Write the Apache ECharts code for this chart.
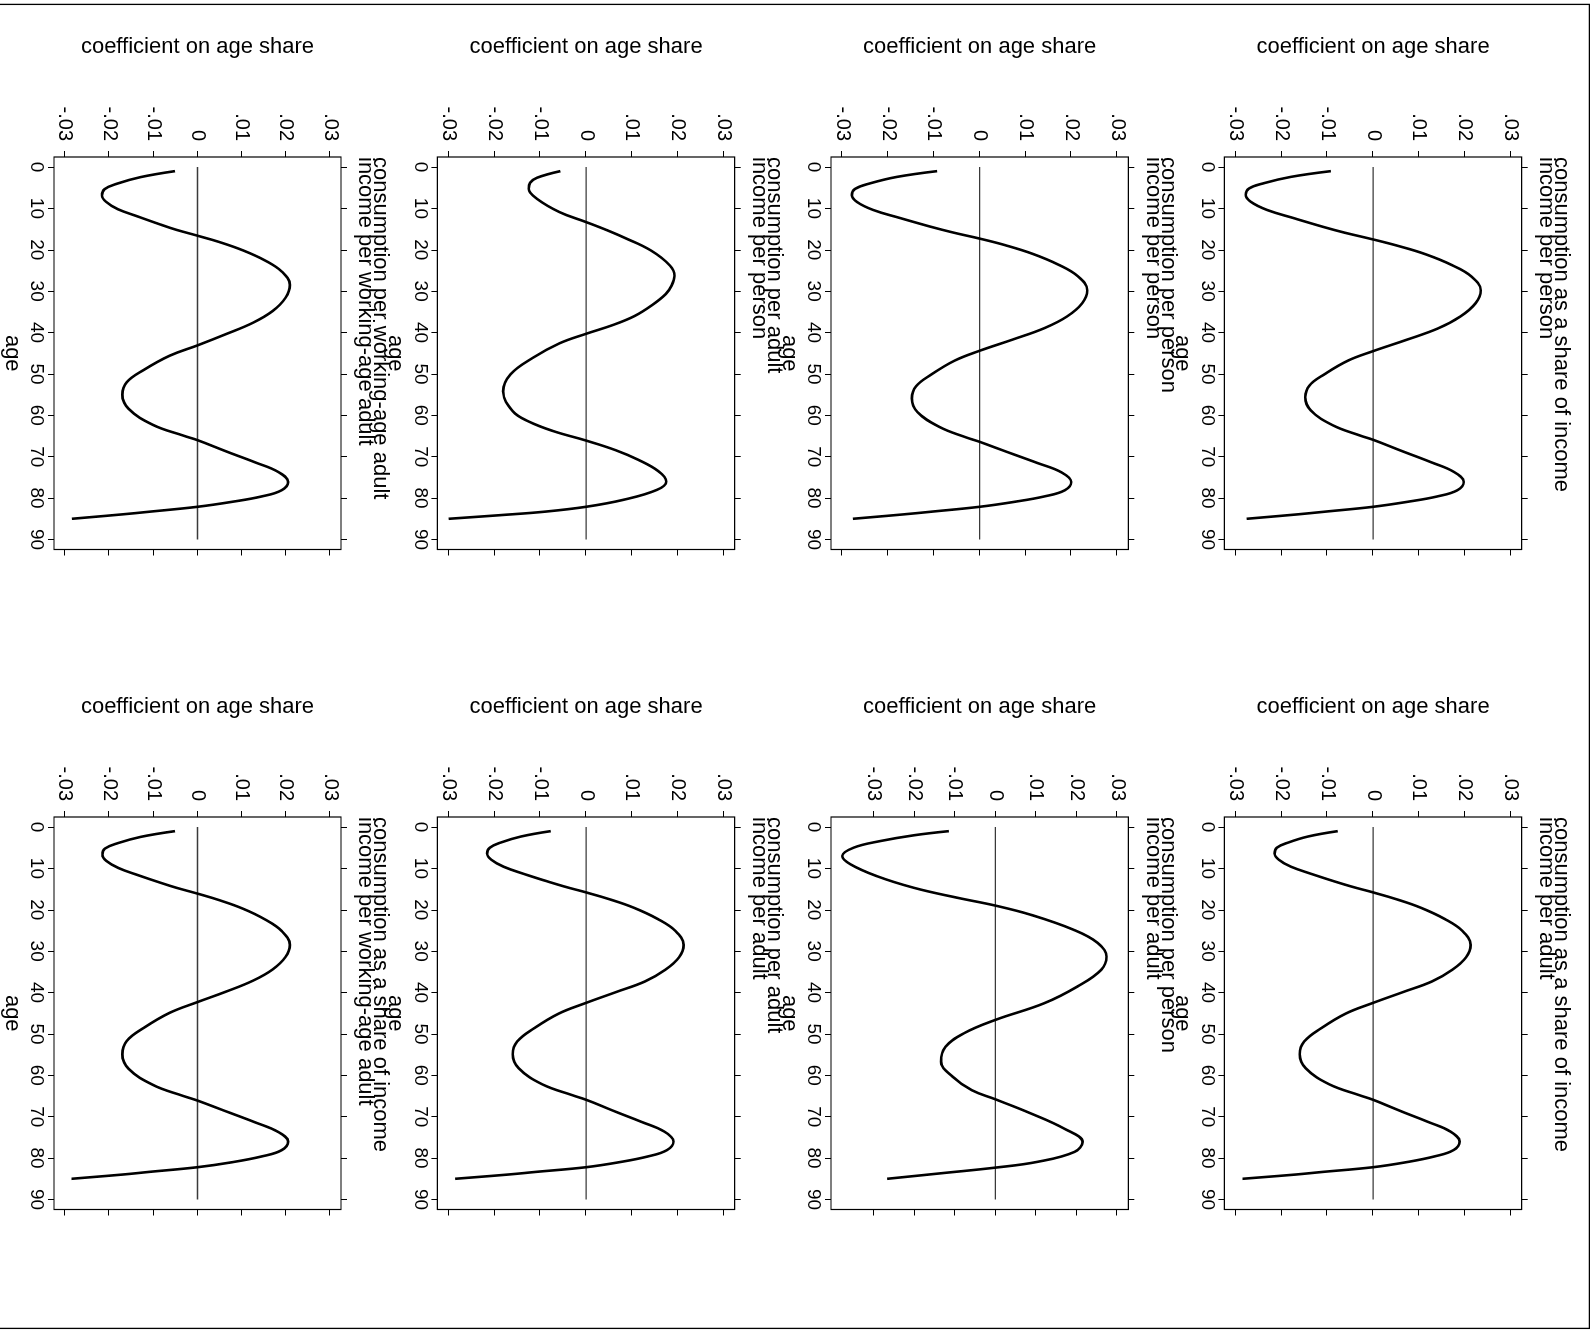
<!DOCTYPE html>
<html>
<head>
<meta charset="utf-8">
<script src="https://cdn.jsdelivr.net/npm/echarts@6/dist/echarts.min.js"></script>
<style>
  html, body { margin: 0; padding: 0; background: #fff; overflow: hidden; width: 1596px; height: 1331px; }
  /* the figure is laid out as a portrait page and turned a quarter turn clockwise */
  #chart { position: absolute; left: 0; top: 0; width: 1331px; height: 1596px;
           transform-origin: 0 0; transform: translate(1596px, 0) rotate(90deg); }
</style>
</head>
<body>
<div id="chart"></div>
<script>
// ---- axis ticks ----
const ageTicks = [0, 10, 20, 30, 40, 50, 60, 70, 80, 90];
const coefTicks = [-0.03, -0.02, -0.01, 0, 0.01, 0.02, 0.03];
const coefTickLabels = ['-.03', '-.02', '-.01', '0', '.01', '.02', '.03'];
const zeroLine = [[0, 0], [90, 0]];

// ---- coefficient on age share, [age, coefficient] ----
const shareIncPerPerson = [[1,-0.0092],[2.4,-0.0180],[3.9,-0.0238],[5.2,-0.0271],[6.7,-0.0278],[8.4,-0.0267],[10.4,-0.0231],[12.4,-0.0172],[14.5,-0.0108],[15.9,-0.0061],[17.5,0],[19.1,0.0056],[21.1,0.0115],[23.7,0.0172],[26.5,0.0215],[29.8,0.0235],[32.9,0.0224],[36.1,0.0191],[39.0,0.0142],[41.8,0.0072],[44.5,0],[46.8,-0.0055],[50.0,-0.0105],[52.8,-0.0139],[55.6,-0.0148],[58.8,-0.0136],[62.4,-0.0088],[64.9,-0.0028],[65.9,0],[68.5,0.0060],[71.3,0.0126],[73.7,0.0177],[76.1,0.0198],[78.1,0.0184],[79.6,0.0140],[80.9,0.0075],[82.1,0],[83.3,-0.0107],[83.9,-0.0162],[85,-0.0276]];
const shareIncPerAdult = [[1,-0.0077],[2.3,-0.0142],[3.75,-0.0185],[5.0,-0.0210],[6.4,-0.0215],[7.9,-0.0206],[9.6,-0.0179],[11.4,-0.0133],[13.2,-0.0083],[14.4,-0.0047],[15.8,0],[17.45,0.0051],[19.5,0.0104],[22.2,0.0156],[25.1,0.0195],[28.5,0.0213],[31.5,0.0203],[34.5,0.0173],[37.3,0.0129],[39.9,0.0065],[42.5,0],[45.1,-0.0060],[48.6,-0.0113],[51.8,-0.0150],[54.9,-0.0160],[58.3,-0.0147],[62.2,-0.0095],[64.8,-0.0030],[65.9,0],[68.5,0.0057],[71.25,0.0120],[73.6,0.0169],[76.0,0.0189],[78.05,0.0176],[79.6,0.0134],[81.0,0.0072],[82.2,0],[83.35,-0.0111],[83.95,-0.0167],[85,-0.0285]];
const consPersonIncPerson = [[1,-0.0093],[2.4,-0.0181],[3.95,-0.0239],[5.3,-0.0272],[6.8,-0.0279],[8.45,-0.0268],[10.4,-0.0232],[12.35,-0.0173],[14.4,-0.0108],[15.75,-0.0061],[17.3,0],[18.9,0.0056],[20.95,0.0115],[23.6,0.0172],[26.45,0.0215],[29.8,0.0235],[32.9,0.0224],[36.1,0.0191],[38.9,0.0142],[41.7,0.0072],[44.4,0],[46.8,-0.0055],[50.1,-0.0105],[53.0,-0.0139],[55.9,-0.0148],[59.2,-0.0136],[62.8,-0.0088],[65.4,-0.0028],[66.4,0],[68.9,0.0061],[71.55,0.0127],[73.8,0.0179],[76.1,0.0200],[78.1,0.0186],[79.6,0.0141],[80.9,0.0076],[82.1,0],[83.3,-0.0107],[83.9,-0.0163],[85,-0.0277]];
const consPersonIncAdult = [[1,-0.0115],[2.0,-0.0201],[3.4,-0.0284],[5.0,-0.0350],[7.0,-0.0378],[9.0,-0.0358],[11.9,-0.0292],[14.7,-0.0201],[17.1,-0.0094],[19.0,0],[21.2,0.0087],[24.8,0.0192],[28.0,0.0252],[31.3,0.0274],[34.5,0.0261],[38.5,0.0203],[42.6,0.0120],[46.6,0],[49.8,-0.0077],[53.1,-0.0123],[56.7,-0.0134],[60.3,-0.0106],[63.6,-0.0058],[65.8,0],[69.2,0.0087],[72.9,0.0170],[76.1,0.0215],[78.5,0.0195],[80.9,0.0104],[82.3,0],[83.6,-0.0128],[85,-0.0267]];
const consAdultIncPerson = [[1,-0.0056],[2.6,-0.0107],[3.8,-0.0122],[5.3,-0.0125],[7.7,-0.0107],[10.9,-0.0058],[13.3,0],[15.2,0.0044],[17.0,0.0082],[20.2,0.0142],[23.8,0.0183],[26.3,0.0193],[28.8,0.0186],[30.7,0.0174],[33.3,0.0145],[36.0,0.0106],[38.2,0.0058],[40.3,0],[42.6,-0.0058],[46.1,-0.0116],[50.1,-0.0165],[54.2,-0.0181],[59.0,-0.0160],[61.5,-0.0125],[63.8,-0.0072],[66.1,0],[68.4,0.0064],[70.7,0.0113],[73.5,0.0158],[76.0,0.0175],[78.0,0.0155],[80.4,0.0082],[82.1,0],[83.3,-0.0092],[84.1,-0.0185],[85,-0.0300]];
const consAdultIncAdult = [[1,-0.0077],[2.3,-0.0142],[3.75,-0.0186],[5.0,-0.0210],[6.4,-0.0216],[7.9,-0.0207],[9.6,-0.0180],[11.4,-0.0134],[13.2,-0.0083],[14.4,-0.0047],[15.8,0],[17.45,0.0051],[19.5,0.0104],[22.2,0.0156],[25.1,0.0195],[28.5,0.0213],[31.5,0.0203],[34.5,0.0173],[37.3,0.0129],[39.9,0.0065],[42.5,0],[45.1,-0.0060],[48.6,-0.0113],[51.8,-0.0150],[54.9,-0.0160],[58.3,-0.0147],[62.2,-0.0095],[64.8,-0.0030],[65.9,0],[68.5,0.0058],[71.25,0.0121],[73.6,0.0171],[76.0,0.0191],[78.05,0.0177],[79.6,0.0135],[81.0,0.0072],[82.2,0],[83.35,-0.0111],[83.95,-0.0168],[85,-0.0286]];
const consWorkIncWork = [[1,-0.0051],[2.45,-0.0129],[4.0,-0.0181],[5.35,-0.0210],[6.9,-0.0216],[8.4,-0.0207],[10.2,-0.0180],[12.0,-0.0134],[13.9,-0.0084],[15.2,-0.0047],[16.6,0],[18.15,0.0050],[20.1,0.0102],[22.6,0.0153],[25.3,0.0191],[28.5,0.0209],[31.6,0.0199],[34.8,0.0170],[37.6,0.0126],[40.4,0.0064],[43.1,0],[45.6,-0.0063],[49.0,-0.0121],[52.0,-0.0160],[55.0,-0.0170],[58.4,-0.0156],[62.3,-0.0101],[64.9,-0.0032],[66.0,0],[68.6,0.0062],[71.35,0.0130],[73.7,0.0183],[76.1,0.0205],[78.1,0.0190],[79.6,0.0145],[80.9,0.0078],[82.1,0],[83.3,-0.0110],[83.9,-0.0167],[85,-0.0284]];
const shareIncPerWork = [[1,-0.0051],[2.4,-0.0129],[3.9,-0.0180],[5.2,-0.0209],[6.7,-0.0215],[8.2,-0.0206],[9.9,-0.0179],[11.7,-0.0133],[13.5,-0.0083],[14.7,-0.0047],[16.1,0],[17.7,0.0050],[19.7,0.0102],[22.35,0.0153],[25.2,0.0191],[28.5,0.0209],[31.4,0.0199],[34.4,0.0170],[37.1,0.0126],[39.8,0.0064],[42.3,0],[44.9,-0.0063],[48.5,-0.0121],[51.7,-0.0160],[54.9,-0.0170],[58.4,-0.0156],[62.3,-0.0101],[65.0,-0.0032],[66.1,0],[68.6,0.0062],[71.35,0.0130],[73.7,0.0183],[76.0,0.0205],[78.1,0.0190],[79.6,0.0145],[81.0,0.0078],[82.2,0],[83.35,-0.0111],[83.95,-0.0167],[85,-0.0285]];

// panel order: left-to-right, top-to-bottom
const panelCurves = [shareIncPerPerson, shareIncPerAdult, consPersonIncPerson, consPersonIncAdult,
                     consAdultIncPerson, consAdultIncAdult, consWorkIncWork, shareIncPerWork];
const panelTitles = [
  ['consumption as a share of income', 'income per person'],
  ['consumption as a share of income', 'income per adult'],
  ['consumption per person', 'income per person'],
  ['consumption per person', 'income per adult'],
  ['consumption per adult', 'income per person'],
  ['consumption per adult', 'income per adult'],
  ['consumption per working-age adult', 'income per working-age adult'],
  ['consumption as a share of income', 'income per working-age adult']
];
const yTitle = 'coefficient on age share';
const xTitle = 'age';

// ---- layout ----
const FONT = '"Liberation Sans", Arial, Helvetica, sans-serif';
const colLeft = [157, 817];
const boxW = 392.5;
const rowTop = [74.3, 467.7, 861.3, 1255];
const boxH = 297.3;
const padPxX = 10, padPxY = 11.25;

const grids = [], xAxes = [], yAxes = [], series = [], titles = [];
const coefLabel = v => {
  const i = coefTicks.findIndex(t => Math.abs(t - v) < 1e-9);
  return i >= 0 ? coefTickLabels[i] : '';
};
const noLine = { show: false, onZero: false };

panelCurves.forEach((curve, i) => {
  const row = Math.floor(i / 2), col = i % 2;
  const left = colLeft[col], top = rowTop[row];
  grids.push({ left, top, width: boxW, height: boxH, show: true,
               borderColor: '#000', borderWidth: 1.2, backgroundColor: '#fff' });

  // age axis range: ticks plus plot-region margin
  const ax = 90 * padPxX / (boxW - 2 * padPxX);
  const xMin = -ax, xMax = 90 + ax;
  // coefficient range: ticks or data, whichever is wider, plus margin
  const vals = curve.map(p => p[1]);
  const lo = Math.min(coefTicks[0], ...vals), hi = Math.max(coefTicks[coefTicks.length - 1], ...vals);
  const ay = (hi - lo) * padPxY / (boxH - 2 * padPxY);
  const yMin = lo - ay, yMax = hi + ay;

  const tick = { show: true, customValues: ageTicks, length: 6, lineStyle: { color: '#000', width: 1 } };
  const base = 2 * i;
  xAxes.push({
    gridIndex: i, type: 'value', position: 'bottom', min: xMin, max: xMax,
    axisLine: noLine, splitLine: { show: false },
    axisTick: tick,
    axisLabel: { customValues: ageTicks, margin: 8, fontSize: 19, color: '#000', fontFamily: FONT },
    name: xTitle, nameLocation: 'middle', nameGap: 31,
    nameTextStyle: { fontSize: 22, color: '#000', fontFamily: FONT }
  });
  xAxes.push({
    gridIndex: i, type: 'value', position: 'top', min: xMin, max: xMax,
    axisLine: noLine, splitLine: { show: false },
    axisTick: tick, axisLabel: { show: false }
  });
  const ytick = { show: true, customValues: coefTicks, length: 6, lineStyle: { color: '#000', width: 1 } };
  yAxes.push({
    gridIndex: i, type: 'value', position: 'left', min: yMin, max: yMax,
    axisLine: noLine, splitLine: { show: false },
    axisTick: ytick,
    axisLabel: { customValues: coefTicks, formatter: coefLabel, margin: 16, fontSize: 20, color: '#000', fontFamily: FONT },
    name: yTitle, nameLocation: 'middle', nameRotate: 90, nameGap: 99,
    nameTextStyle: { fontSize: 22, color: '#000', fontFamily: FONT }
  });
  yAxes.push({
    gridIndex: i, type: 'value', position: 'right', min: yMin, max: yMax,
    axisLine: noLine, splitLine: { show: false },
    axisTick: ytick, axisLabel: { show: false }
  });

  series.push({
    type: 'line', xAxisIndex: base, yAxisIndex: base, data: zeroLine,
    showSymbol: false, silent: true, z: 2,
    lineStyle: { color: '#3a3a3a', width: 1.3 }
  });
  series.push({
    type: 'line', xAxisIndex: base, yAxisIndex: base, data: curve,
    showSymbol: false, smooth: 0.4, z: 3,
    lineStyle: { color: '#000', width: 2.6 }
  });

  titles.push({
    text: panelTitles[i].join('\n'), left: left, top: top - 47, padding: 0,
    textStyle: { fontSize: 22, fontWeight: 'normal', color: '#000', lineHeight: 15, fontFamily: FONT }
  });
});

const chart = echarts.init(document.getElementById('chart'), null, { renderer: 'canvas', width: 1331, height: 1596 });
chart.setOption({
  animation: false,
  backgroundColor: '#fff',
  title: titles,
  grid: grids,
  xAxis: xAxes,
  yAxis: yAxes,
  series: series,
  graphic: [{
    type: 'rect', silent: true, z: 100,
    shape: { x: 4.4, y: 6.7, width: 1324, height: 1620 },
    style: { fill: 'none', stroke: '#000', lineWidth: 1.3 }
  }]
});
</script>
</body>
</html>
